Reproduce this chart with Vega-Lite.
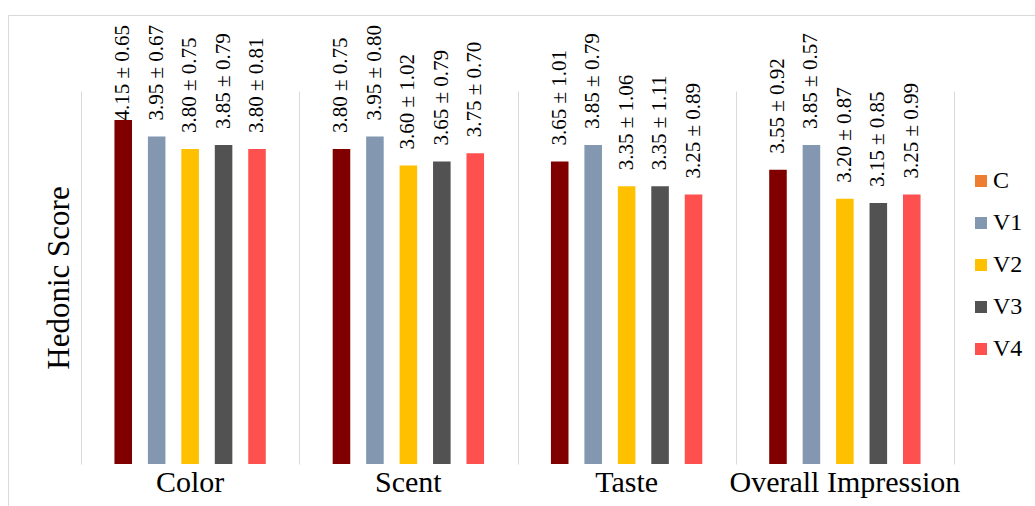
{
  "$schema": "https://vega.github.io/schema/vega-lite/v6.json",
  "width": 1027,
  "height": 491,
  "autosize": {"type": "none"},
  "padding": {"left": 8, "top": 15, "right": 0, "bottom": 0},
  "background": "white",
  "config": {
    "view": {"stroke": "#d9d9d9", "strokeWidth": 1},
    "font": "Liberation Serif"
  },
  "data": {
    "values": [
      {"attribute": "Color", "sample": "C", "mean": 4.15, "sd": 0.65, "label": "4.15 ± 0.65"},
      {"attribute": "Color", "sample": "V1", "mean": 3.95, "sd": 0.67, "label": "3.95 ± 0.67"},
      {"attribute": "Color", "sample": "V2", "mean": 3.80, "sd": 0.75, "label": "3.80 ± 0.75"},
      {"attribute": "Color", "sample": "V3", "mean": 3.85, "sd": 0.79, "label": "3.85 ± 0.79"},
      {"attribute": "Color", "sample": "V4", "mean": 3.80, "sd": 0.81, "label": "3.80 ± 0.81"},
      {"attribute": "Scent", "sample": "C", "mean": 3.80, "sd": 0.75, "label": "3.80 ± 0.75"},
      {"attribute": "Scent", "sample": "V1", "mean": 3.95, "sd": 0.80, "label": "3.95 ± 0.80"},
      {"attribute": "Scent", "sample": "V2", "mean": 3.60, "sd": 1.02, "label": "3.60 ± 1.02"},
      {"attribute": "Scent", "sample": "V3", "mean": 3.65, "sd": 0.79, "label": "3.65 ± 0.79"},
      {"attribute": "Scent", "sample": "V4", "mean": 3.75, "sd": 0.70, "label": "3.75 ± 0.70"},
      {"attribute": "Taste", "sample": "C", "mean": 3.65, "sd": 1.01, "label": "3.65 ± 1.01"},
      {"attribute": "Taste", "sample": "V1", "mean": 3.85, "sd": 0.79, "label": "3.85 ± 0.79"},
      {"attribute": "Taste", "sample": "V2", "mean": 3.35, "sd": 1.06, "label": "3.35 ± 1.06"},
      {"attribute": "Taste", "sample": "V3", "mean": 3.35, "sd": 1.11, "label": "3.35 ± 1.11"},
      {"attribute": "Taste", "sample": "V4", "mean": 3.25, "sd": 0.89, "label": "3.25 ± 0.89"},
      {"attribute": "Overall Impression", "sample": "C", "mean": 3.55, "sd": 0.92, "label": "3.55 ± 0.92"},
      {"attribute": "Overall Impression", "sample": "V1", "mean": 3.85, "sd": 0.57, "label": "3.85 ± 0.57"},
      {"attribute": "Overall Impression", "sample": "V2", "mean": 3.20, "sd": 0.87, "label": "3.20 ± 0.87"},
      {"attribute": "Overall Impression", "sample": "V3", "mean": 3.15, "sd": 0.85, "label": "3.15 ± 0.85"},
      {"attribute": "Overall Impression", "sample": "V4", "mean": 3.25, "sd": 0.99, "label": "3.25 ± 0.99"}
    ]
  },
  "layer": [
    {
      "mark": {"type": "bar"},
      "encoding": {
        "x": {
          "field": "attribute",
          "type": "nominal",
          "sort": ["Color", "Scent", "Taste", "Overall Impression"],
          "scale": {"range": [73, 946], "paddingInner": 0, "paddingOuter": 0},
          "axis": {
            "title": null,
            "orient": "top",
            "labels": false,
            "ticks": false,
            "domain": false,
            "grid": true,
            "gridColor": "#d9d9d9",
            "gridWidth": 1,
            "tickBand": "extent"
          }
        },
        "xOffset": {
          "field": "sample",
          "type": "nominal",
          "sort": ["C", "V1", "V2", "V3", "V4"],
          "scale": {"paddingInner": 0.475, "paddingOuter": 1.17}
        },
        "y": {
          "field": "mean",
          "type": "quantitative",
          "scale": {"domain": [0, 4.5], "range": [449, 76], "nice": false},
          "axis": {
            "title": "Hedonic Score",
            "orient": "left",
            "offset": -73,
            "labels": false,
            "ticks": false,
            "domain": false,
            "grid": false,
            "titleFont": "Liberation Serif",
            "titleFontSize": 31,
            "titleFontWeight": "normal",
            "titleColor": "#000000",
            "titlePadding": 6
          }
        },
        "color": {
          "condition": {"test": "datum.sample === 'C'", "value": "#800000"},
          "field": "sample",
          "type": "nominal",
          "sort": ["C", "V1", "V2", "V3", "V4"],
          "scale": {
            "domain": ["C", "V1", "V2", "V3", "V4"],
            "range": ["#ED7D31", "#8497B0", "#FFC000", "#525252", "#FF5050"]
          },
          "legend": {
            "title": null,
            "orient": "none",
            "legendX": 961,
            "legendY": 154,
            "padding": 0,
            "symbolType": "square",
            "symbolSize": 144,
            "symbolStrokeWidth": 0,
            "labelFont": "Liberation Serif",
            "labelFontSize": 24,
            "labelFontWeight": "normal",
            "labelColor": "#000000",
            "labelOffset": 0,
            "rowPadding": 18
          }
        }
      }
    },
    {
      "mark": {
        "type": "text",
        "angle": 270,
        "align": "left",
        "baseline": "middle",
        "dx": 16,
        "font": "Liberation Serif",
        "fontSize": 21,
        "color": "#000000"
      },
      "encoding": {
        "x": {
          "field": "attribute",
          "type": "nominal",
          "sort": ["Color", "Scent", "Taste", "Overall Impression"],
          "axis": {
            "title": null,
            "orient": "bottom",
            "offset": -42,
            "labelAngle": 0,
            "labelFont": "Liberation Serif",
            "labelFontSize": 30,
            "labelFontWeight": "normal",
            "labelColor": "#000000",
            "labelPadding": 3,
            "labelLimit": 0,
            "ticks": false,
            "domain": false,
            "grid": false
          }
        },
        "xOffset": {
          "field": "sample",
          "type": "nominal",
          "sort": ["C", "V1", "V2", "V3", "V4"]
        },
        "y": {
          "field": "mean",
          "type": "quantitative",
          "scale": {"domain": [0, 3.95], "range": [449, 121.6], "nice": false, "zero": false, "clamp": true},
          "axis": null
        },
        "text": {"field": "label"}
      }
    }
  ],
  "resolve": {"scale": {"y": "independent"}, "axis": {"x": "independent"}}
}
